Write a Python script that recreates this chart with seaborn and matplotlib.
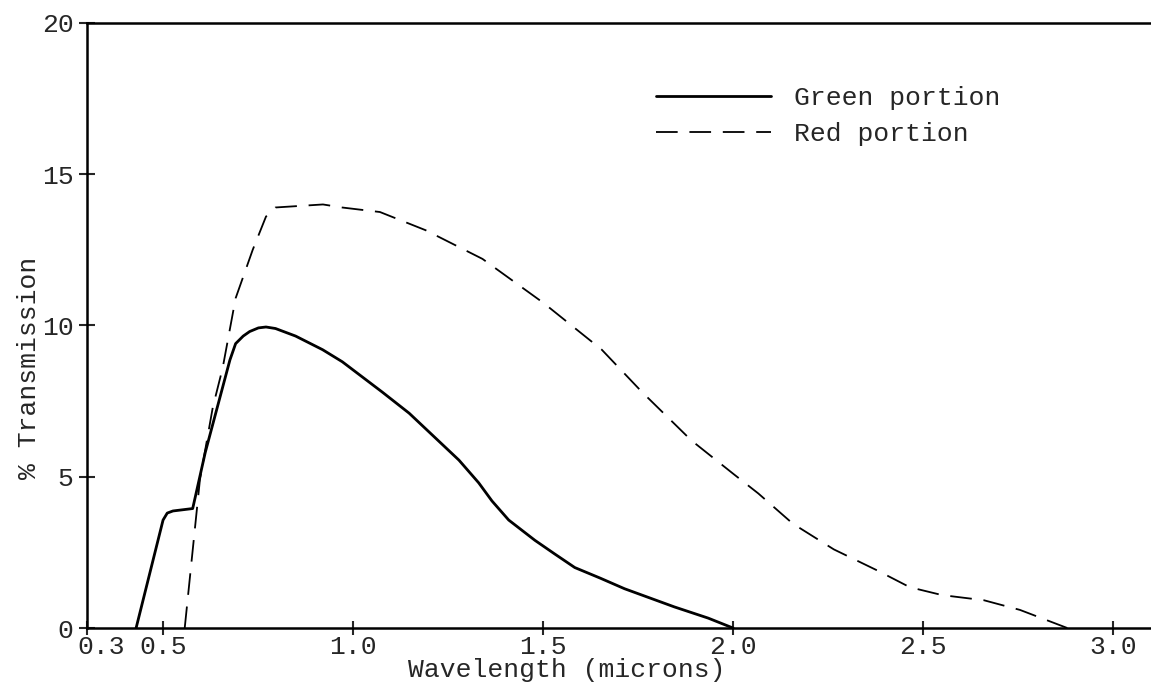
import matplotlib
matplotlib.use("Agg")
import matplotlib.pyplot as plt
import seaborn as sns
import pandas as pd
import matplotlib.transforms as mtransforms

# Data
green_x = [0.428, 0.499, 0.510, 0.525, 0.577, 0.610, 0.675, 0.690, 0.710, 0.727, 0.750,
           0.770, 0.795, 0.848, 0.919, 0.971, 1.076, 1.147, 1.278, 1.330, 1.365, 1.409,
           1.478, 1.530, 1.583, 1.650, 1.714, 1.845, 1.934, 2.000]
green_y = [0.0, 3.57, 3.80, 3.87, 3.95, 5.8, 8.86, 9.4, 9.65, 9.8, 9.92,
           9.95, 9.9, 9.65, 9.2, 8.8, 7.8, 7.1, 5.55, 4.8, 4.2, 3.57,
           2.9, 2.45, 2.0, 1.65, 1.3, 0.7, 0.33, 0.0]

red_x = [0.556, 0.596, 0.630, 0.656, 0.690, 0.735, 0.770, 0.795, 0.920, 0.970, 1.070,
         1.190, 1.340, 1.500, 1.654, 1.760, 1.890, 2.000, 2.066, 2.157, 2.265, 2.380,
         2.465, 2.550, 2.660, 2.755, 2.880]
red_y = [0.0, 4.9, 7.3, 8.6, 10.9, 12.5, 13.6, 13.9, 14.0, 13.9, 13.75,
         13.15, 12.2, 10.75, 9.2, 7.8, 6.2, 5.1, 4.45, 3.45, 2.6, 1.9,
         1.35, 1.09, 0.92, 0.6, 0.0]

x_ticks = [0.3, 0.5, 1.0, 1.5, 2.0, 2.5, 3.0]
x_tick_labels = ["0.3", "0.5", "1.0", "1.5", "2.0", "2.5", "3.0"]
y_ticks = [0, 5, 10, 15, 20]
y_tick_labels = ["0", "5", "10", "15", "20"]

series_names = ["Green portion", "Red portion"]

sns.set_style("ticks")
plt.rcParams["font.family"] = ["Liberation Mono", "DejaVu Sans Mono"]
FS = 19

fig = plt.figure(figsize=(11.51, 6.94), dpi=100)
ax = fig.add_axes([0.076, 0.095, 0.924, 0.872])

gdf = pd.DataFrame({"x": green_x, "y": green_y})
rdf = pd.DataFrame({"x": red_x, "y": red_y})

sns.lineplot(data=gdf, x="x", y="y", ax=ax, color="black", linewidth=2.0,
             sort=False, estimator=None, label=series_names[0])
sns.lineplot(data=rdf, x="x", y="y", ax=ax, color="black", linewidth=1.3,
             sort=False, estimator=None, label=series_names[1],
             linestyle=(0, (12, 6.5)))

ax.set_xlim(0.3, 3.1)
ax.set_ylim(0, 20)
ax.set_xticks(x_ticks)
ax.set_xticklabels(x_tick_labels)
ax.set_yticks(y_ticks)
ax.set_yticklabels(y_tick_labels)

ax.tick_params(axis="x", direction="inout", length=10, width=1.5, labelsize=FS, pad=0)
ax.tick_params(axis="y", direction="inout", length=12, width=1.5, labelsize=FS, pad=4)

# shift first x tick label to the right like the reference
lbls = ax.get_xticklabels()
lbls[0].set_horizontalalignment("left")
lbls[0].set_transform(lbls[0].get_transform() +
                      mtransforms.ScaledTranslation(-10 / 100, 0, fig.dpi_scale_trans))

for s in ["left", "bottom", "top"]:
    ax.spines[s].set_linewidth(1.8)
    ax.spines[s].set_color("black")
ax.spines["right"].set_visible(False)

ax.set_xlabel("Wavelength (microns)", fontsize=FS)
ax.xaxis.set_label_coords(0.451, -0.05)
ax.set_ylabel("% Transmission", fontsize=FS)
ax.yaxis.set_label_coords(-0.044, 0.43)

leg = ax.legend(loc="upper left", bbox_to_anchor=(0.535, 0.895), frameon=False,
                fontsize=FS, handlelength=4.35, handletextpad=0.87,
                borderpad=0, borderaxespad=0, labelspacing=0.45)
for line in leg.get_lines():
    line.set_color("black")

fig.savefig("out.png", dpi=100)
